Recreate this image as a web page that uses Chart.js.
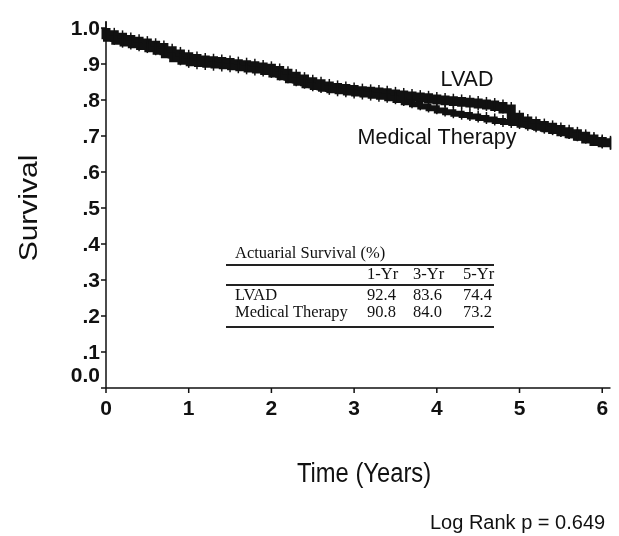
<!DOCTYPE html>
<html>
<head>
<meta charset="utf-8">
<script src="https://cdn.jsdelivr.net/npm/chart.js@4.4.1/dist/chart.umd.min.js"></script>
<style>
  body { margin: 0; background: #fff; }
  #wrap { position: relative; width: 619px; height: 536px; }
  #survival-chart { position: absolute; left: 0; top: 0; }
  .tbl { position: absolute; left: 0; top: 0; font-family: "Liberation Serif", "Times New Roman", serif; font-size: 16.5px; color: #111; }
  .tbl .rule { position: absolute; height: 1.5px; background: #222; }
  .tbl span { position: absolute; white-space: nowrap; line-height: 1; }
</style>
</head>
<body>
<div id="wrap">
  <canvas id="survival-chart" width="619" height="536"></canvas>
  <div class="tbl" id="tbl"></div>
</div>
<script>
// survival curves, one point every 0.1 year
var times = [0.0,0.1,0.2,0.3,0.4,0.5,0.6,0.7,0.8,0.9,1.0,1.1,1.2,1.3,1.4,1.5,1.6,1.7,1.8,1.9,2.0,
  2.1,2.2,2.3,2.4,2.5,2.6,2.7,2.8,2.9,3.0,3.1,3.2,3.3,3.4,3.5,3.6,3.7,3.8,3.9,4.0,
  4.1,4.2,4.3,4.4,4.5,4.6,4.7,4.8,4.9,5.0,5.1,5.2,5.3,5.4,5.5,5.6,5.7,5.8,5.9,6.0,6.1];

var lvad = [1.000,0.981,0.974,0.968,0.963,0.958,0.952,0.946,0.937,0.928,0.920,0.915,0.911,0.909,0.907,0.904,0.901,0.898,0.895,0.892,0.888,
  0.882,0.874,0.866,0.858,0.851,0.845,0.839,0.835,0.832,0.829,0.826,0.824,0.822,0.820,0.817,0.814,0.811,0.808,0.806,0.803,
  0.800,0.798,0.796,0.794,0.792,0.789,0.786,0.782,0.775,0.752,0.742,0.735,0.729,0.724,0.718,0.712,0.706,0.699,0.692,0.685,0.681];

var medical = [1.000,0.970,0.962,0.957,0.952,0.947,0.941,0.934,0.924,0.913,0.906,0.902,0.900,0.898,0.896,0.894,0.891,0.888,0.885,0.882,0.878,
  0.871,0.863,0.855,0.848,0.841,0.836,0.831,0.827,0.824,0.821,0.818,0.815,0.812,0.809,0.805,0.800,0.794,0.788,0.782,0.777,
  0.771,0.766,0.762,0.758,0.754,0.750,0.746,0.742,0.739,0.736,0.731,0.727,0.723,0.719,0.714,0.708,0.702,0.696,0.690,0.684,0.680];

var xTicks = [0,1,2,3,4,5,6];
var yTicks = [0.0,0.1,0.2,0.3,0.4,0.5,0.6,0.7,0.8,0.9,1.0];
var yTickLabels = ['0.0','.1','.2','.3','.4','.5','.6','.7','.8','.9','1.0'];

var tableTitle = 'Actuarial Survival (%)';
var tableCols = ['1-Yr','3-Yr','5-Yr'];
var tableRows = ['LVAD','Medical Therapy'];
var lvadActuarial = [92.4, 83.6, 74.4];
var medicalActuarial = [90.8, 84.0, 73.2];

function toPoints(xs, ys) {
  return xs.map(function (t, i) { return { x: t, y: ys[i] }; });
}

// draws text squeezed horizontally, like the scanned figure
function squeezed(ctx, text, x, y, sx) {
  ctx.save();
  ctx.translate(x, y);
  ctx.scale(sx, 1);
  ctx.fillText(text, 0, 0);
  ctx.restore();
}

var axisPlugin = {
  id: 'axisPlugin',
  afterDraw: function (chart) {
    var ctx = chart.ctx;
    var xs = chart.scales.x, ys = chart.scales.y;
    var x0 = xs.getPixelForValue(0), y0 = ys.getPixelForValue(0);
    var yTop = ys.getPixelForValue(1);
    ctx.save();
    ctx.strokeStyle = '#111';
    ctx.fillStyle = '#111';
    ctx.lineWidth = 1.5;
    ctx.beginPath();
    ctx.moveTo(x0, yTop); ctx.lineTo(x0, y0 + 4);
    ctx.moveTo(x0, y0); ctx.lineTo(xs.getPixelForValue(6.1), y0);
    yTicks.forEach(function (v) {
      var py = ys.getPixelForValue(v);
      ctx.moveTo(x0 - 5, py); ctx.lineTo(x0, py);
    });
    xTicks.forEach(function (v) {
      var px = xs.getPixelForValue(v);
      ctx.moveTo(px, y0); ctx.lineTo(px, y0 + 5);
    });
    ctx.stroke();

    ctx.font = 'bold 21px "Liberation Sans", Arial, sans-serif';
    ctx.textAlign = 'right';
    ctx.textBaseline = 'middle';
    yTicks.forEach(function (v, i) {
      var py = ys.getPixelForValue(v);
      if (v === 0) py -= 13;
      ctx.fillText(yTickLabels[i], x0 - 6, py + 1);
    });
    ctx.textAlign = 'center';
    xTicks.forEach(function (v) {
      ctx.fillText(String(v), xs.getPixelForValue(v), y0 + 21);
    });

    ctx.font = '27px "Liberation Sans", Arial, sans-serif';
    squeezed(ctx, 'Time (Years)', 364, 475, 0.88);
    ctx.font = '30px "Liberation Sans", Arial, sans-serif';
    ctx.save();
    ctx.translate(30, 208);
    ctx.rotate(-Math.PI / 2);
    ctx.scale(1, 0.85);
    ctx.fillText('Survival', 0, 0);
    ctx.restore();

    ctx.font = '21.5px "Liberation Sans", Arial, sans-serif';
    ctx.fillText('LVAD', 467, 80);
    ctx.fillText('Medical Therapy', 437, 138);

    ctx.font = '20px "Liberation Sans", Arial, sans-serif';
    ctx.textAlign = 'left';
    ctx.fillText('Log Rank p = 0.649', 430, 523);
    ctx.restore();
  }
};

new Chart(document.getElementById('survival-chart'), {
  type: 'line',
  data: {
    datasets: [
      {
        label: 'Medical Therapy',
        data: toPoints(times, medical),
        borderColor: '#111',
        borderWidth: 6,
        stepped: 'after',
        pointStyle: 'line',
        rotation: 90,
        pointRadius: 6,
        pointBorderWidth: 1.5,
        pointBorderColor: '#111',
        clip: false
      },
      {
        label: 'LVAD',
        data: toPoints(times, lvad),
        borderColor: '#111',
        borderWidth: 9,
        stepped: 'after',
        pointStyle: 'line',
        rotation: 90,
        pointRadius: 7,
        pointBorderWidth: 1.5,
        pointBorderColor: '#111',
        clip: false
      }
    ]
  },
  options: {
    responsive: false,
    animation: false,
    layout: { padding: { left: 106, right: 2, top: 28, bottom: 148 } },
    plugins: { legend: { display: false }, tooltip: { enabled: false } },
    scales: {
      x: { type: 'linear', min: 0, max: 6.1, display: false },
      y: { type: 'linear', min: 0, max: 1, display: false }
    }
  },
  plugins: [axisPlugin]
});

// actuarial survival table overlay
var tbl = document.getElementById('tbl');
function addSpan(text, x, y) {
  var s = document.createElement('span');
  s.textContent = text;
  s.style.left = x + 'px';
  s.style.top = y + 'px';
  tbl.appendChild(s);
}
function addRule(x, y, w) {
  var r = document.createElement('div');
  r.className = 'rule';
  r.style.left = x + 'px';
  r.style.top = y + 'px';
  r.style.width = w + 'px';
  tbl.appendChild(r);
}
var colX = [367, 413, 463];
addSpan(tableTitle, 235, 245);
addRule(226, 264, 268);
tableCols.forEach(function (c, i) { addSpan(c, colX[i], 266); });
addRule(226, 284, 268);
addSpan(tableRows[0], 235, 287);
lvadActuarial.forEach(function (v, i) { addSpan(v.toFixed(1), colX[i], 287); });
addSpan(tableRows[1], 235, 304);
medicalActuarial.forEach(function (v, i) { addSpan(v.toFixed(1), colX[i], 304); });
addRule(226, 326, 268);
</script>
</body>
</html>
